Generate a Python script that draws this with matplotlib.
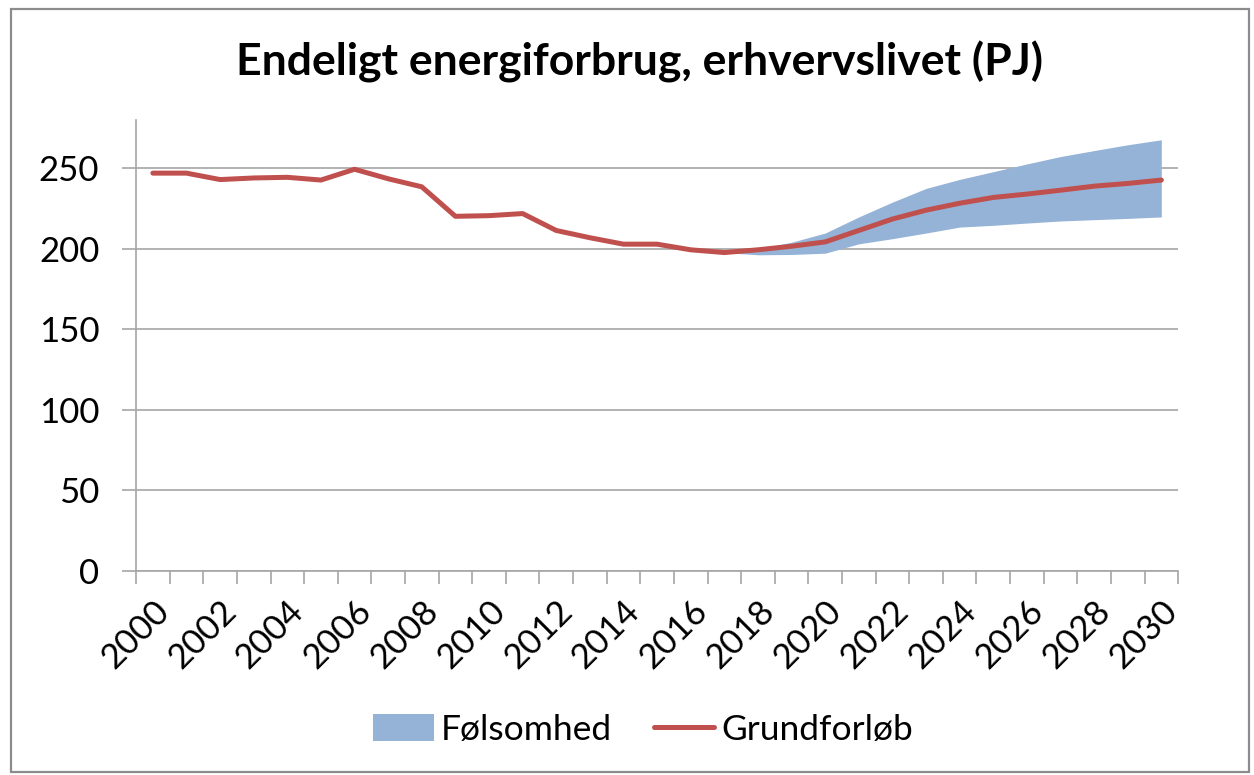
import numpy as np
import matplotlib.pyplot as plt
from matplotlib.patches import Rectangle

plt.rcParams["font.family"] = ["Lato", "DejaVu Sans"]

# data
years = list(range(2000, 2031))
grundforloeb = [247, 247, 243, 244, 244.4, 242.7, 249.4, 243.5, 238.5, 220.2,
                220.6, 221.9, 211.4, 206.9, 202.9, 202.9, 199.4, 197.7, 199.4, 201.6,
                204.3, 211.4, 218.5, 224, 228.3, 231.9, 234, 236.4, 238.9, 240.6, 242.7]
band_years = list(range(2017, 2031))
band_low = [197.7, 196.3, 196.5, 197.3, 203.1, 206.3, 209.8, 213.5, 214.6, 216,
            217.3, 218.1, 218.9, 219.8]
band_high = [197.7, 200, 204.1, 209.8, 219.8, 229, 237.5, 243.1, 247.9, 252.7,
             257.3, 261, 264.6, 267.7]
y_ticks = [0, 50, 100, 150, 200, 250]

BLUE = "#95B3D7"
RED = "#C0504D"
GRID = "#A6A6A6"

fig = plt.figure(figsize=(12.54, 7.75), dpi=100)
ax = fig.add_axes([0.1085, 0.2632, 0.831, 0.582])

x = np.arange(len(years))
xb = np.array([years.index(y) for y in band_years])

ax.fill_between(xb, band_low, band_high, color=BLUE, linewidth=0, label="Følsomhed", zorder=2)
ax.plot(x, grundforloeb, color=RED, linewidth=3.6, solid_capstyle="round",
        solid_joinstyle="round", label="Grundforløb", zorder=3)

ax.set_xlim(-0.5, len(years) - 0.5)
ax.set_ylim(0, 280)
ax.set_yticks(y_ticks)
ax.yaxis.grid(True, color=GRID, linewidth=1.2)
ax.set_axisbelow(True)

# category ticks between years, labels every second year
ax.set_xticks(np.arange(-0.5, len(years), 1.0), minor=False)
ax.set_xticklabels([])
ax.set_xticks(x[::2], minor=True)
ax.set_xticklabels([str(y) for y in years[::2]], minor=True, rotation=45,
                   ha="right", rotation_mode="anchor", fontsize=25)
ax.tick_params(axis="x", which="minor", length=0, pad=17)
ax.tick_params(axis="x", which="major", length=9, width=1.2, color=GRID, direction="out")
ax.tick_params(axis="y", length=10, width=1.2, color=GRID, labelsize=25, pad=16.5)

for side in ["top", "right"]:
    ax.spines[side].set_visible(False)
for side in ["left", "bottom"]:
    ax.spines[side].set_color(GRID)
    ax.spines[side].set_linewidth(1.2)

fig.text(0.51, 0.92, "Endeligt energiforbrug, erhvervslivet (PJ)", ha="center",
         va="center", fontsize=32, fontweight="bold")

fig.legend(loc="center", bbox_to_anchor=(0.513, 0.058), ncol=2, frameon=False,
           fontsize=25.5, handlelength=1.7, handleheight=0.8, handletextpad=0.2,
           columnspacing=1.2)

# chart area border
fig.patches.append(Rectangle((0.0088, 0.004), 0.987, 0.9845, transform=fig.transFigure,
                             fill=False, edgecolor="#8C8C8C", linewidth=1.6))

plt.savefig("out.png", dpi=100)
plt.close()
